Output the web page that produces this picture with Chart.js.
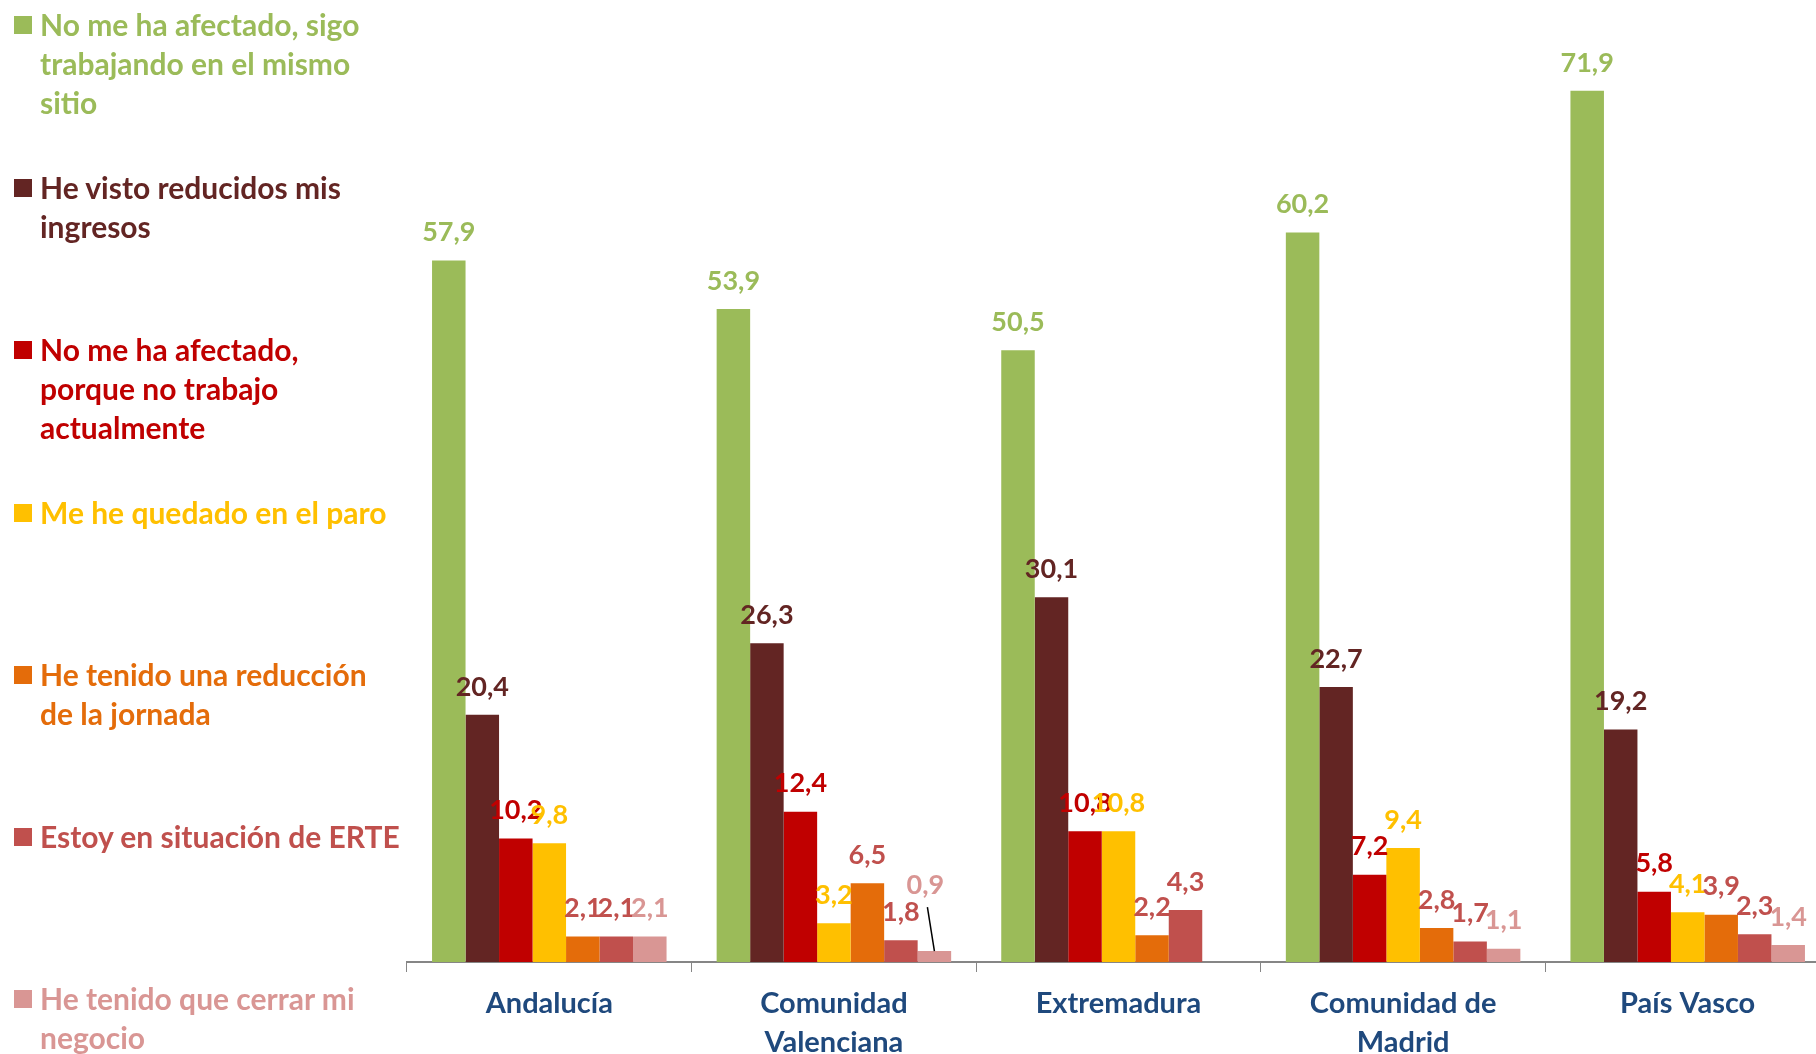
<!DOCTYPE html>
<html lang="es">
  <head>
    <meta charset="UTF-8" />
    <title>Efecto en la situación laboral por comunidad</title>
    <script src="https://cdn.jsdelivr.net/npm/chart.js"></script>
    <style>
      html, body { margin: 0; padding: 0; background: #fff; overflow: hidden; }
      #wrap { position: relative; width: 1816px; height: 1054px; overflow: hidden; }
      #chartBox { position: absolute; left: 0; top: 0; width: 1830px; height: 1054px; }
      .leg {
        position: absolute; left: 14px;
        font-family: Lato, sans-serif; font-weight: 700; font-size: 30px; line-height: 39px;
        white-space: nowrap;
      }
      .leg .sq { position: absolute; left: 0; top: 11px; width: 18px; height: 18px; }
      .leg .tx { margin-left: 26px; }
    </style>
  </head>
  <body>
    <div id="wrap">
      <div id="chartBox"><canvas id="myChart"></canvas></div>
    </div>

    <script>
      // datos
      const regiones = [["Andalucía"], ["Comunidad", "Valenciana"], ["Extremadura"], ["Comunidad de", "Madrid"], ["País Vasco"]];

      const sigoTrabajando = [57.9, 53.9, 50.5, 60.2, 71.9];
      const reducidosIngresos = [20.4, 26.3, 30.1, 22.7, 19.2];
      const noTrabajo = [10.2, 12.4, 10.8, 7.2, 5.8];
      const paro = [9.8, 3.2, 10.8, 9.4, 4.1];
      const reduccionJornada = [2.1, 6.5, 2.2, 2.8, 3.9];
      const erte = [2.1, 1.8, 4.3, 1.7, 2.3];
      const cerrarNegocio = [2.1, 0.9, null, 1.1, 1.4];

      const nombres = [
        ["No me ha afectado, sigo", "trabajando en el mismo", "sitio"],
        ["He visto reducidos mis", "ingresos"],
        ["No me ha afectado,", "porque no trabajo", "actualmente"],
        ["Me he quedado en el paro"],
        ["He tenido una reducción", "de la jornada"],
        ["Estoy en situación de ERTE"],
        ["He tenido que cerrar mi", "negocio"],
      ];
      const colores = ["#9BBB59", "#632523", "#C00000", "#FFC000", "#E46C0A", "#C0504D", "#D99694"];
      const coloresEtiqueta = ["#9BBB59", "#632523", "#C00000", "#FFC000", "#C0504D", "#C0504D", "#D99694"];
      const series = [sigoTrabajando, reducidosIngresos, noTrabajo, paro, reduccionJornada, erte, cerrarNegocio];

      // leyenda a la izquierda (html)
      const legTops = [4.5, 167.5, 330, 492.5, 654.5, 816.5, 979];
      const wrap = document.getElementById("wrap");
      nombres.forEach((lineas, i) => {
        const d = document.createElement("div");
        d.className = "leg";
        d.style.top = legTops[i] + "px";
        d.style.color = colores[i];
        d.innerHTML = '<span class="sq" style="background:' + colores[i] + '"></span><div class="tx">' + lineas.join("<br>") + "</div>";
        wrap.appendChild(d);
      });

      // etiquetas de valor encima de cada barra
      const etiquetas = {
        id: "etiquetas",
        afterDatasetsDraw(chart) {
          const ctx = chart.ctx;
          ctx.save();
          ctx.font = "bold 27px Lato";
          ctx.textAlign = "center";
          ctx.textBaseline = "middle";
          chart.data.datasets.forEach((ds, i) => {
            const meta = chart.getDatasetMeta(i);
            meta.data.forEach((bar, j) => {
              const v = ds.data[j];
              if (v == null) return;
              let x = bar.x;
              let y = bar.y - 28;
              // la etiqueta 0,9 va desplazada con línea guía
              if (ds.guia && ds.guia[j]) {
                x += ds.guia[j][0];
                y = bar.y + ds.guia[j][1];
                ctx.strokeStyle = "#000";
                ctx.lineWidth = 1.5;
                ctx.beginPath();
                ctx.moveTo(x + 2, y + 22);
                ctx.lineTo(bar.x, bar.y);
                ctx.stroke();
              }
              ctx.fillStyle = coloresEtiqueta[i];
              ctx.fillText(v.toFixed(1).replace(".", ","), x, y);
            });
          });
          ctx.restore();
        },
      };

      const datasets = series.map((s, i) => ({
        label: nombres[i].join(" "),
        data: s,
        backgroundColor: colores[i],
        borderWidth: 0,
        categoryPercentage: 0.824,
        barPercentage: 1.0,
      }));
      datasets[6].guia = [null, [-9, -66], null, null, null];

      new Chart(document.getElementById("myChart"), {
        type: "bar",
        data: { labels: regiones, datasets: datasets },
        options: {
          responsive: true,
          maintainAspectRatio: false,
          animation: false,
          layout: { padding: { left: 407, top: 0, right: 0, bottom: 0 } },
          plugins: { legend: { display: false }, tooltip: { enabled: false } },
          scales: {
            y: { display: false, min: 0, max: 79.4 },
            x: {
              grid: { display: true, drawOnChartArea: false, drawTicks: true, tickLength: 10, color: "#868686", offset: true },
              border: { display: true, color: "#868686", width: 2 },
              ticks: {
                color: "#1F497D",
                font: { family: "Lato", size: 29, weight: "bold", lineHeight: 1.35 },
                padding: 12,
                maxRotation: 0,
                autoSkip: false,
              },
              afterFit(s) { s.height = 92; },
            },
          },
        },
        plugins: [etiquetas],
      });
    </script>
  </body>
</html>
